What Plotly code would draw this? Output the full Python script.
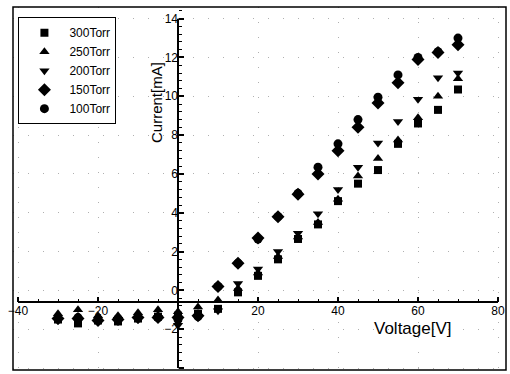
import plotly.graph_objects as go

voltage = [-30, -25, -20, -15, -10, -5, 0, 5, 10, 15, 20, 25, 30, 35, 40, 45, 50, 55, 60, 65, 70]
i300 = [-1.5, -1.7, -1.55, -1.6, -1.45, -1.35, -1.3, -1.2, -0.95, -0.1, 0.75, 1.6, 2.65, 3.4, 4.6, 5.5, 6.2, 7.55, 8.6, 9.3, 10.35]
i250 = [-1.2, -1.0, -1.3, -1.3, -1.15, -1.0, -1.1, -0.85, -0.5, 0.1, 0.9, 1.75, 2.75, 3.5, 4.7, 5.9, 6.8, 7.75, 8.9, 10.0, 10.9]
i200 = [-1.55, -1.6, -1.6, -1.5, -1.5, -1.4, -1.8, -1.35, -1.05, 0.35, 1.1, 2.0, 2.95, 3.95, 5.2, 6.35, 7.6, 8.7, 9.85, 10.95, 11.2]
i150 = [-1.45, -1.45, -1.55, -1.5, -1.4, -1.4, -1.4, -1.3, 0.2, 1.4, 2.7, 3.8, 4.95, 6.0, 7.2, 8.4, 9.65, 10.7, 11.9, 12.25, 12.65]
i100 = [-1.45, -1.4, -1.5, -1.45, -1.4, -1.4, -1.5, -1.35, 0.2, 1.4, 2.65, 3.8, 5.0, 6.35, 7.55, 8.8, 9.95, 11.1, 12.0, 12.3, 13.0]

series_names = ["300Torr", "250Torr", "200Torr", "150Torr", "100Torr"]
series_vals = [i300, i250, i200, i150, i100]
symbols = ["square", "triangle-up", "triangle-down", "diamond", "circle"]
sizes = [8, 9, 9, 10, 9]

x_ticks = [-40, -20, 20, 40, 60, 80]
y_ticks = [-4, -2, 0, 2, 4, 6, 8, 10, 12, 14]

XR = [-41.25, 82]
YR = [-4.1, 14.6]
X_CROSS = -0.6  # value where the horizontal axis crosses

fig = go.Figure()
for name, vals, sym, sz in zip(series_names, series_vals, symbols, sizes):
    fig.add_trace(go.Scatter(
        x=voltage, y=vals, mode="markers", name=name,
        marker=dict(symbol=sym, size=sz, color="black", line=dict(width=0)),
    ))

font_main = "Liberation Sans, Arial, sans-serif"
grid_col = "#b0b0b0"

fig.update_layout(
    width=510, height=374,
    margin=dict(l=13, r=4, t=7, b=4),
    paper_bgcolor="white", plot_bgcolor="white",
    font=dict(family=font_main, size=11, color="black"),
    showlegend=True,
    legend=dict(
        x=0.011, y=0.972, xanchor="left", yanchor="top",
        bordercolor="black", borderwidth=1, bgcolor="white",
        font=dict(family="Liberation Sans Narrow, Arial Narrow, Liberation Sans, sans-serif", size=12),
        itemwidth=40, tracegroupgap=0,
    ),
    xaxis=dict(
        range=XR, anchor="free",
        position=(X_CROSS - YR[0]) / (YR[1] - YR[0]),
        tickvals=x_ticks, ticks="inside", ticklen=5, tickwidth=1.5, tickcolor="black",
        showline=False, zeroline=False,
        showgrid=True, gridcolor=grid_col, griddash="1px,14px", gridwidth=1,
        minor=dict(dtick=5, tick0=0, ticks="inside", ticklen=3, tickwidth=1, tickcolor="black", showgrid=False),
        tickfont=dict(size=12, color="black"),
    ),
    yaxis=dict(
        range=YR, anchor="free",
        position=(0 - XR[0]) / (XR[1] - XR[0]),
        tickvals=y_ticks, ticks="inside", ticklen=5, tickwidth=1.5, tickcolor="black",
        showline=False, zeroline=False,
        showgrid=True, gridcolor=grid_col, griddash="1px,14px", gridwidth=1,
        minor=dict(dtick=0.4, tick0=0, ticks="inside", ticklen=3, tickwidth=1, tickcolor="black", showgrid=False),
        tickfont=dict(size=12, color="black"),
    ),
    shapes=[
        dict(type="line", xref="x", yref="y", x0=-40, x1=80, y0=X_CROSS, y1=X_CROSS,
             line=dict(color="black", width=2)),
        dict(type="line", xref="x", yref="y", x0=0, x1=0, y0=-4, y1=14,
             line=dict(color="black", width=2)),
        dict(type="rect", xref="paper", yref="paper", x0=0, x1=1, y0=0, y1=1,
             line=dict(color="black", width=1.5)),
    ],
    annotations=[
        dict(text="Current[mA]", xref="paper", yref="paper",
             x=(146 - 13) / 493, y=1 - (60 - 7) / 363, textangle=-90,
             showarrow=False, font=dict(size=15, family=font_main)),
        dict(text="Voltage[V]", xref="paper", yref="paper",
             x=(454 - 13) / 493, y=1 - (340 - 7) / 363,
             showarrow=False, font=dict(size=17, family=font_main)),
    ],
)

fig.write_html("out.html")
